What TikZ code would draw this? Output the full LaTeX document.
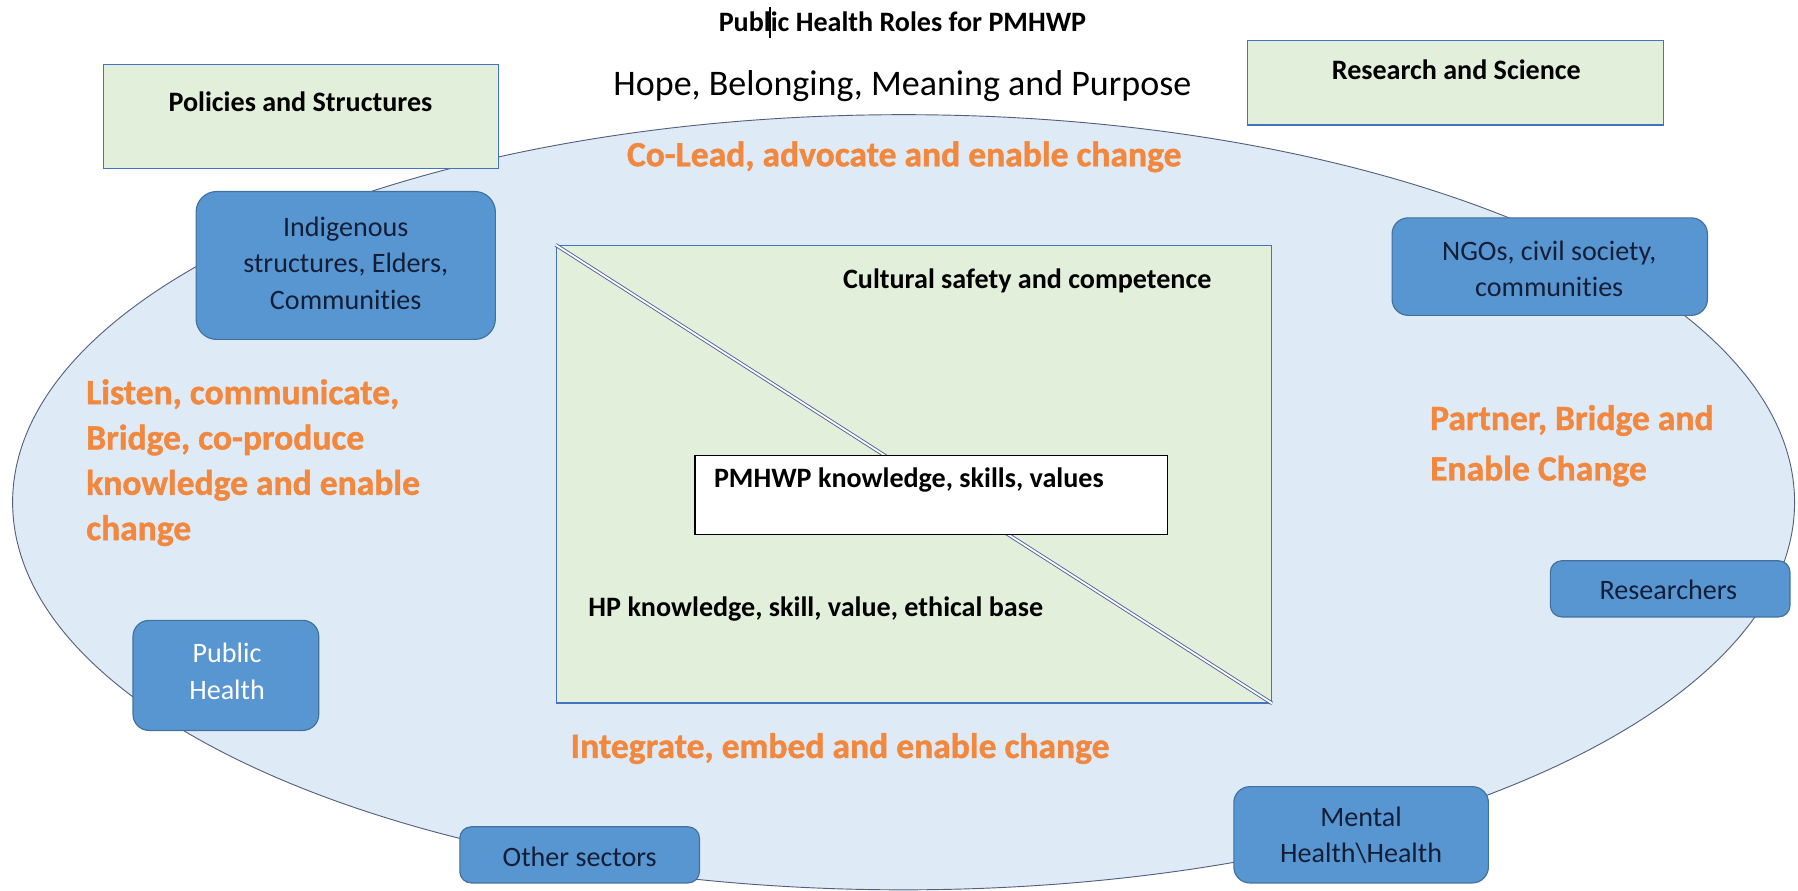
\documentclass[tikz,border=0pt]{standalone}
\usepackage{fontspec}
\setmainfont{Carlito}[Ligatures=NoCommon]
\newfontfamily\orfont{Carlito}[Ligatures=NoCommon, BoldFeatures={FakeBold=1.2}]
\usetikzlibrary{shapes.geometric}
\definecolor{ellfill}{RGB}{222,235,247}
\definecolor{elldraw}{RGB}{85,95,125}
\definecolor{grnfill}{RGB}{226,239,218}
\definecolor{grndraw}{RGB}{68,114,196}
\definecolor{bluefill}{RGB}{88,150,210}
\definecolor{bluedraw}{RGB}{65,113,156}
\definecolor{boxtext}{RGB}{20,30,55}
\definecolor{orng}{RGB}{242,135,62}
\definecolor{diag}{RGB}{80,100,160}
\begin{document}
\begin{tikzpicture}[x=1pt,y=-1pt,
  greenbox/.style={draw=grndraw, line width=1pt, fill=grnfill, inner sep=0pt},
  bluebox/.style={draw=bluedraw, line width=1pt, fill=bluefill, rounded corners=14pt, inner sep=0pt},
  blbl/.style={font=\fontsize{24.5}{31}\selectfont\bfseries, inner sep=0pt},
  boxlbl/.style={font=\fontsize{24.5}{32}\selectfont, text=boxtext, align=center, inner sep=0pt, anchor=base},
  orlbl/.style={font=\orfont\fontsize{31}{40}\selectfont\bfseries, text=orng, inner sep=0pt},
]
\useasboundingbox[fill=white] (0,0) rectangle (1568,777);
% big oval
\node[ellipse, draw=elldraw, line width=0.8pt, fill=ellfill, inner sep=0pt,
      minimum width=1554pt, minimum height=676pt] (oval) at (788,438) {};
% green boxes on top
\node[greenbox, minimum width=345pt, minimum height=91pt] (pol) at (262.5,101.5) {};
\node[greenbox, minimum width=363pt, minimum height=74pt] (res) at (1269.5,72) {};
% blue boxes
\node[bluebox, rounded corners=18pt, minimum width=261pt, minimum height=129pt] (indig) at (301.5,231.5) {};
\node[bluebox, minimum width=275pt, minimum height=85pt] (ngo) at (1351.5,232.5) {};
\node[bluebox, minimum width=162pt, minimum height=96pt] (ph) at (197,589) {};
\node[bluebox, rounded corners=10pt, minimum width=209pt, minimum height=49pt] (oth) at (505.5,745.5) {};
\node[bluebox, rounded corners=10pt, minimum width=209pt, minimum height=49pt] (rsr) at (1456.5,513.5) {};
\node[bluebox, minimum width=222pt, minimum height=84pt] (mh) at (1187,728) {};
% inner green rectangle with diagonal
\node[greenbox, minimum width=624pt, minimum height=399pt] (inner) at (797,413.5) {};
\draw[diag, line width=0.8pt, double=white, double distance=1.6pt] (inner.north west) -- (inner.south east);
\node[draw=black, line width=1.1pt, fill=white, inner sep=0pt, minimum width=412pt, minimum height=69pt] (pmh) at (812,431.5) {};
% texts
\node[blbl, anchor=base] (title) at (787,27.6) {Public Health Roles for PMHWP};
\draw[line width=1.1pt] (671.4,6) -- (671.4,33);
\node[font=\fontsize{31.4}{38}\selectfont, inner sep=0pt, anchor=base] (hope) at (787,83) {Hope, Belonging, Meaning and Purpose};
\node[blbl, anchor=base] (polt) at (262,97.5) {Policies and Structures};
\node[blbl, anchor=base] (rest) at (1270,69.5) {Research and Science};
\node[orlbl, anchor=base] (colead) at (788.5,145) {Co-Lead, advocate and enable change};
\node[blbl, anchor=base west] (cult) at (735,252) {Cultural safety and competence};
\node[blbl, anchor=base west] (pmht) at (622.5,425) {PMHWP knowledge, skills, values};
\node[blbl, anchor=base west] (hpt) at (513,538) {HP knowledge, skill, value, ethical base};
\node[orlbl, anchor=base west, align=left, font=\orfont\fontsize{31}{39.5}\selectfont\bfseries] (listen) at (75,471) {Listen, communicate,\\Bridge, co-produce\\knowledge and enable\\change};
\node[orlbl, anchor=base west, align=left, font=\orfont\fontsize{31}{44}\selectfont\bfseries] (partner) at (1247,419) {Partner, Bridge and\\Enable Change};
\node[orlbl, anchor=base] (integ) at (732.6,661) {Integrate, embed and enable change};
\node[boxlbl] (indigt) at (301.5,270) {Indigenous\\structures, Elders,\\Communities};
\node[boxlbl] (ngot) at (1351,259) {NGOs, civil society,\\communities};
\node[boxlbl, text=white] (pht) at (198,610) {Public\\Health};
\node[boxlbl] (otht) at (505.5,756) {Other sectors};
\node[boxlbl] (rsrt) at (1455,523) {Researchers};
\node[boxlbl, font=\fontsize{24.5}{31.5}\selectfont] (mht) at (1187,752.5) {Mental\\Health\textbackslash Health};
\end{tikzpicture}
\end{document}
